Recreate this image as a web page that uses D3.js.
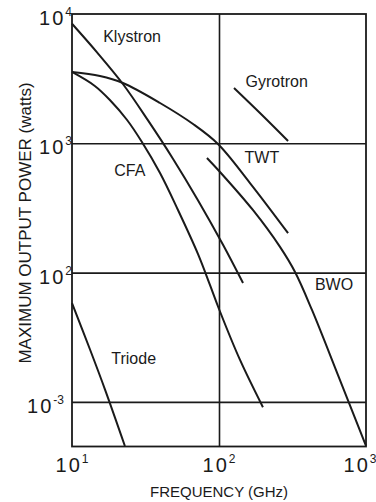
<!DOCTYPE html>
<html lang="en">
<head>
<meta charset="UTF-8">
<title>Maximum output power vs frequency</title>
<script src="https://cdn.jsdelivr.net/npm/d3@7/dist/d3.min.js"></script>
<style>
  body { margin: 0; background: #fff; }
  svg { display: block; font-family: "Liberation Sans", Arial, sans-serif; }
</style>
</head>
<body>
<script>
// frequency in GHz, power in watts
var klystronFreq  = [10, 14.8, 22.2, 32.9, 48.6, 71.9, 106.5, 145.7];
var klystronPower = [8400, 5050, 2875, 1503, 760, 363, 164, 83];

var cfaFreq  = [10, 14.3, 18.1, 23.7, 29.9, 39.7, 52.6, 72, 86.9, 100, 139, 199];
var cfaPower = [3560, 2775, 2162, 1514, 1023, 589, 305, 139, 80, 52.3, 21.1, 9.1];

var twtFreq  = [10, 15.5, 22.2, 39.7, 66.6, 98.4, 162.5, 295];
var twtPower = [3560, 3315, 2927, 2050, 1410, 988, 493, 202];

var bwoFreq  = [82.8, 101.6, 170, 260, 329, 429, 645, 1000];
var bwoPower = [770, 600, 305, 158, 101, 51.4, 16.1, 4.56];

var gyrotronFreq  = [126.5, 193, 295];
var gyrotronPower = [2677, 1685, 1042];

var triodeFreq  = [10, 13.3, 16.8, 22.9];
var triodePower = [58, 25.2, 12.4, 4.56];

var tubes = ['Klystron', 'CFA', 'TWT', 'BWO', 'Gyrotron', 'Triode'];

// tick values and the exponents printed next to them
var xTickValues = [10, 100, 1000];
var xTickExps   = ['1', '2', '3'];
var yTickValues = [1e4, 1e3, 1e2, 1e1];
var yTickExps   = ['4', '3', '2', '-3'];

var width = 376, height = 502;
var plot = {left: 72, right: 366, top: 14, bottom: 446.5};
var ink = '#1a1a1a';

var svg = d3.select('body').append('svg')
    .attr('width', width)
    .attr('height', height);

var xScale = d3.scaleLog()
    .domain([10, 1000])
    .range([plot.left, plot.right]);
var yScale = d3.scaleLog()
    .domain([Math.pow(10, 0.655), 1e4])
    .range([plot.bottom, plot.top]);

// grid lines
svg.append('g')
    .attr('transform', 'translate(' + plot.left + ',0)')
    .call(d3.axisLeft(yScale).tickValues(yTickValues.slice(1))
        .tickSize(-(plot.right - plot.left)).tickFormat(''))
    .call(function (g) {
        g.select('.domain').remove();
        g.selectAll('line').attr('stroke', ink).attr('stroke-width', 1.6);
    });
svg.append('g')
    .attr('transform', 'translate(0,' + plot.bottom + ')')
    .call(d3.axisBottom(xScale).tickValues([100])
        .tickSize(-(plot.bottom - plot.top)).tickFormat(''))
    .call(function (g) {
        g.select('.domain').remove();
        g.selectAll('line').attr('stroke', ink).attr('stroke-width', 1.6);
    });

// frame
svg.append('rect')
    .attr('x', plot.left)
    .attr('y', plot.top)
    .attr('width', plot.right - plot.left)
    .attr('height', plot.bottom - plot.top)
    .attr('fill', 'none')
    .attr('stroke', ink)
    .attr('stroke-width', 1.8);

// tick labels
var yLabels = svg.selectAll('.ylab')
    .data(yTickValues)
    .enter()
    .append('text')
    .attr('class', 'ylab')
    .attr('x', function (d, i) { return plot.left - (yTickExps[i].length > 1 ? 8 : 0); })
    .attr('y', function (d) { return yScale(d) + 11; })
    .attr('text-anchor', 'end')
    .attr('fill', ink);
yLabels.append('tspan').attr('font-size', 20).attr('letter-spacing', 2).text('10');
yLabels.append('tspan').attr('font-size', 12).attr('dy', -9)
    .text(function (d, i) { return yTickExps[i]; });

var xLabels = svg.selectAll('.xlab')
    .data(xTickValues)
    .enter()
    .append('text')
    .attr('class', 'xlab')
    .attr('x', function (d) { return Math.min(xScale(d), width - 16); })
    .attr('y', 472)
    .attr('text-anchor', 'middle')
    .attr('fill', ink);
xLabels.append('tspan').attr('font-size', 20).attr('letter-spacing', 2).text('10');
xLabels.append('tspan').attr('font-size', 12).attr('dy', -9)
    .text(function (d, i) { return xTickExps[i]; });

// axis titles
svg.append('text')
    .attr('x', (plot.left + plot.right) / 2)
    .attr('y', 497)
    .attr('text-anchor', 'middle')
    .attr('font-size', 15)
    .attr('fill', ink)
    .text('FREQUENCY (GHz)');

svg.append('text')
    .attr('transform', 'translate(31,223) rotate(-90)')
    .attr('text-anchor', 'middle')
    .attr('font-size', 17)
    .attr('fill', ink)
    .text('MAXIMUM OUTPUT POWER (watts)');

// curves
var series = [
    {name: 'Klystron', f: klystronFreq, p: klystronPower},
    {name: 'CFA', f: cfaFreq, p: cfaPower},
    {name: 'TWT', f: twtFreq, p: twtPower},
    {name: 'BWO', f: bwoFreq, p: bwoPower},
    {name: 'Gyrotron', f: gyrotronFreq, p: gyrotronPower},
    {name: 'Triode', f: triodeFreq, p: triodePower}
];

var line = d3.line()
    .x(function (d) { return xScale(d[0]); })
    .y(function (d) { return yScale(d[1]); })
    .curve(d3.curveCatmullRom.alpha(0.5));

svg.selectAll('.curve')
    .data(series)
    .enter()
    .append('path')
    .attr('class', 'curve')
    .attr('d', function (s) { return line(d3.zip(s.f, s.p)); })
    .attr('fill', 'none')
    .attr('stroke', ink)
    .attr('stroke-width', 2);

// curve names, anchored at (GHz, watts)
var nameAt = {
    Klystron: [16.3, 6070],
    CFA: [19.4, 558],
    TWT: [149.3, 705],
    BWO: [449, 73.3],
    Gyrotron: [151.7, 2723],
    Triode: [18.5, 19.6]
};
svg.selectAll('.name')
    .data(tubes)
    .enter()
    .append('text')
    .attr('class', 'name')
    .attr('x', function (d) { return xScale(nameAt[d][0]); })
    .attr('y', function (d) { return yScale(nameAt[d][1]); })
    .attr('font-size', 16)
    .attr('fill', ink)
    .text(function (d) { return d; });
</script>
</body>
</html>
